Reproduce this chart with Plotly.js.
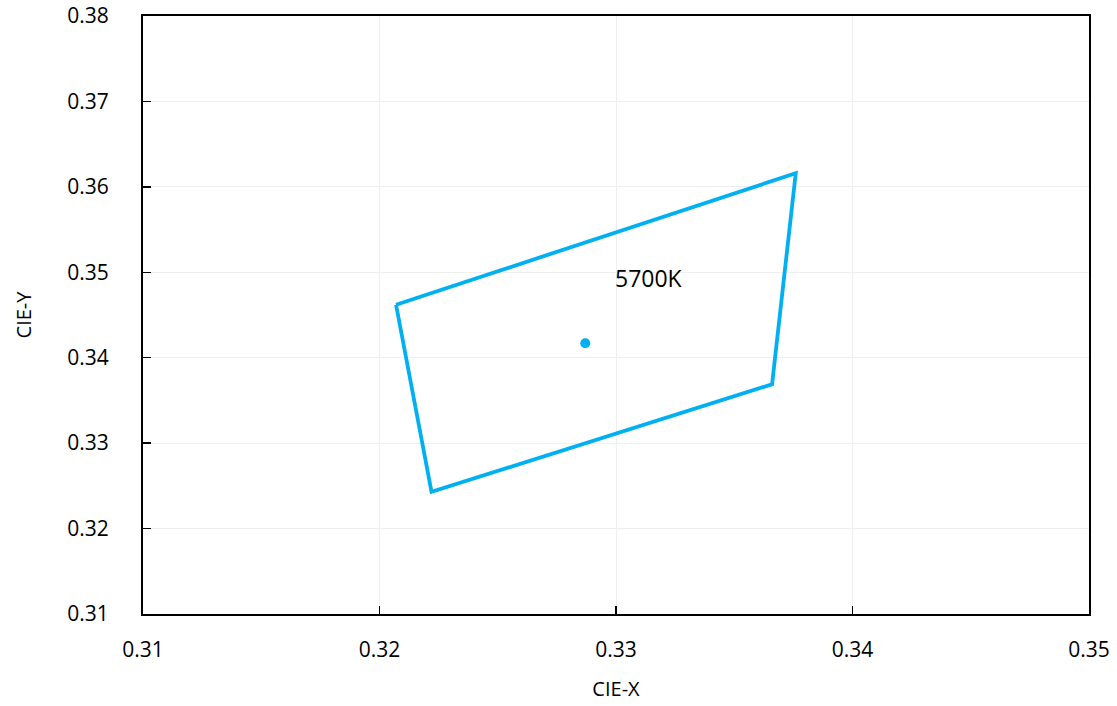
<!DOCTYPE html>
<html>
<head>
<meta charset="utf-8">
<script src="https://cdn.plot.ly/plotly-3.0.1.min.js"></script>
<style>html,body{margin:0;padding:0;background:#fff;}#chart{width:1117px;height:706px;}</style>
</head>
<body>
<div id="chart"></div>
<script>
const quadX = [0.3207, 0.3376, 0.3366, 0.3222, 0.3207];
const quadY = [0.3462, 0.3616, 0.3369, 0.3243, 0.3462];
const centerX = [0.3287];
const centerY = [0.3417];
const labelText = "5700K";
const labelX = 0.3314;
const labelY = 0.3493;
const xTicks = [0.31, 0.32, 0.33, 0.34, 0.35];
const yTicks = [0.31, 0.32, 0.33, 0.34, 0.35, 0.36, 0.37, 0.38];

const color = '#00b0f0';
const fontFam = '"Open Sans", "Noto Sans", sans-serif';

const data = [
  {x: quadX, y: quadY, mode: 'lines', line: {color: color, width: 3.8}, hoverinfo: 'skip'},
  {x: centerX, y: centerY, mode: 'markers', marker: {color: color, size: 10}, hoverinfo: 'skip'}
];

const layout = {
  width: 1117, height: 706,
  margin: {l: 143, r: 28, t: 16, b: 92},
  paper_bgcolor: '#fff', plot_bgcolor: '#fff',
  showlegend: false,
  font: {family: fontFam, size: 21, color: '#000'},
  xaxis: {
    range: [0.31, 0.35], tickvals: xTicks, ticktext: xTicks.map(v => v.toFixed(2)),
    showgrid: true, gridcolor: '#efefef', gridwidth: 1,
    showline: true, linecolor: '#000', linewidth: 2, mirror: true,
    ticks: 'inside', ticklen: 8, tickcolor: '#000', tickwidth: 1.5,
    zeroline: false, tickfont: {size: 21}, ticklabelstandoff: 16,
    title: {text: 'CIE-X', font: {size: 20}, standoff: 20}
  },
  yaxis: {
    range: [0.31, 0.38], tickvals: yTicks, ticktext: yTicks.map(v => v.toFixed(2)),
    showgrid: true, gridcolor: '#efefef', gridwidth: 1,
    showline: true, linecolor: '#000', linewidth: 2, mirror: true,
    ticks: 'inside', ticklen: 8, tickcolor: '#000', tickwidth: 1.5,
    zeroline: false, tickfont: {size: 21}, ticklabelstandoff: 28,
    title: {text: 'CIE-Y', font: {size: 20}, standoff: 30}
  },
  annotations: [{x: labelX, y: labelY, text: labelText, showarrow: false, font: {size: 23, color: '#000'}, xanchor: 'center', yanchor: 'middle'}]
};

Plotly.newPlot('chart', data, layout, {displayModeBar: false, staticPlot: true});
</script>
</body>
</html>
